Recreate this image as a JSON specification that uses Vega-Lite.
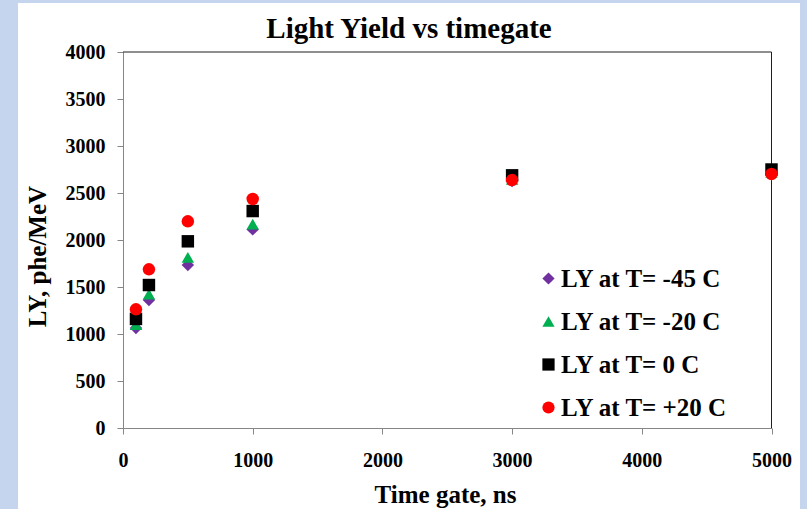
{
  "$schema": "https://vega.github.io/schema/vega-lite/v6.json",
  "width": 782,
  "height": 506,
  "autosize": {"type": "none"},
  "padding": {"left": 18, "top": 3, "right": 7, "bottom": 0},
  "background": "#c5d5ee",
  "config": {
    "view": {"fill": "white", "stroke": null},
    "font": "Liberation Serif"
  },
  "title": {
    "text": "Light Yield vs timegate",
    "font": "Liberation Serif",
    "fontSize": 29,
    "fontWeight": "bold",
    "color": "black",
    "anchor": "middle",
    "frame": "group",
    "baseline": "alphabetic",
    "offset": -33,
    "dy": 31
  },
  "datasets": {
    "ly": [
      {"series": "LY at T= -45 C", "gate": 100, "ly": 1063},
      {"series": "LY at T= -45 C", "gate": 200, "ly": 1362},
      {"series": "LY at T= -45 C", "gate": 500, "ly": 1734},
      {"series": "LY at T= -45 C", "gate": 1000, "ly": 2113},
      {"series": "LY at T= -45 C", "gate": 3000, "ly": 2627},
      {"series": "LY at T= -45 C", "gate": 5000, "ly": 2700},
      {"series": "LY at T= -20 C", "gate": 100, "ly": 1100},
      {"series": "LY at T= -20 C", "gate": 200, "ly": 1425},
      {"series": "LY at T= -20 C", "gate": 500, "ly": 1816},
      {"series": "LY at T= -20 C", "gate": 1000, "ly": 2170},
      {"series": "LY at T= -20 C", "gate": 3000, "ly": 2645},
      {"series": "LY at T= -20 C", "gate": 5000, "ly": 2720},
      {"series": "LY at T= 0 C", "gate": 100, "ly": 1160},
      {"series": "LY at T= 0 C", "gate": 200, "ly": 1521},
      {"series": "LY at T= 0 C", "gate": 500, "ly": 1986},
      {"series": "LY at T= 0 C", "gate": 1000, "ly": 2308},
      {"series": "LY at T= 0 C", "gate": 3000, "ly": 2688},
      {"series": "LY at T= 0 C", "gate": 5000, "ly": 2750},
      {"series": "LY at T= +20 C", "gate": 100, "ly": 1263},
      {"series": "LY at T= +20 C", "gate": 200, "ly": 1688},
      {"series": "LY at T= +20 C", "gate": 500, "ly": 2199},
      {"series": "LY at T= +20 C", "gate": 1000, "ly": 2436},
      {"series": "LY at T= +20 C", "gate": 3000, "ly": 2638},
      {"series": "LY at T= +20 C", "gate": 5000, "ly": 2702}
    ]
  },
  "data": {"values": [{}]},
  "layer": [
    {
      "mark": {"type": "rule", "color": "#1f1f1f", "strokeWidth": 1},
      "encoding": {
        "x": {"datum": 0, "type": "quantitative"},
        "x2": {"datum": 5000},
        "y": {"datum": 4000, "type": "quantitative"}
      }
    },
    {
      "mark": {"type": "rule", "color": "#1f1f1f", "strokeWidth": 1},
      "encoding": {
        "x": {"datum": 5000, "type": "quantitative"},
        "y": {"datum": 0, "type": "quantitative"},
        "y2": {"datum": 4000}
      }
    },
    {
      "data": {"name": "ly"},
      "mark": {"type": "point", "filled": true, "opacity": 1, "size": 155, "strokeWidth": 0},
      "encoding": {
        "x": {
          "field": "gate",
          "type": "quantitative",
          "scale": {"domain": [0, 5000], "range": [105, 753.5], "nice": false},
          "axis": {
            "values": [0, 1000, 2000, 3000, 4000, 5000],
            "format": "d",
            "grid": false,
            "offset": -81,
            "domainColor": "#868686",
            "tickColor": "#868686",
            "tickSize": 6,
            "labelPadding": 16,
            "labelFont": "Liberation Serif",
            "labelFontSize": 20,
            "labelFontWeight": "bold",
            "labelColor": "black",
            "labelFlush": false,
            "labelOverlap": false,
            "title": "Time gate, ns",
            "titleFont": "Liberation Serif",
            "titleFontSize": 25,
            "titleFontWeight": "bold",
            "titleColor": "black",
            "titleX": 427,
            "titleY": 66,
            "titleBaseline": "middle",
            "titleAlign": "center"
          }
        },
        "y": {
          "field": "ly",
          "type": "quantitative",
          "scale": {"domain": [0, 4000], "range": [425, 49], "nice": false},
          "axis": {
            "values": [0, 500, 1000, 1500, 2000, 2500, 3000, 3500, 4000],
            "format": "d",
            "grid": false,
            "offset": -105,
            "domainColor": "#868686",
            "tickColor": "#868686",
            "tickSize": 6,
            "labelPadding": 12,
            "labelFont": "Liberation Serif",
            "labelFontSize": 20,
            "labelFontWeight": "bold",
            "labelColor": "black",
            "labelFlush": false,
            "labelOverlap": false,
            "title": "LY, phe/MeV",
            "titleFont": "Liberation Serif",
            "titleFontSize": 25,
            "titleFontWeight": "bold",
            "titleColor": "black",
            "titleAngle": -90,
            "titleX": -86,
            "titleY": 253,
            "titleBaseline": "middle",
            "titleAlign": "center"
          }
        },
        "color": {
          "field": "series",
          "type": "nominal",
          "scale": {
            "domain": ["LY at T= -45 C", "LY at T= -20 C", "LY at T= 0 C", "LY at T= +20 C"],
            "range": ["#7030a0", "#00b050", "#000000", "#ff0000"]
          },
          "legend": {
            "title": null,
            "orient": "none",
            "legendX": 518,
            "legendY": 263,
            "padding": 0,
            "rowPadding": 17,
            "labelOffset": 0,
            "labelLimit": 400,
            "labelFont": "Liberation Serif",
            "labelFontSize": 25,
            "labelFontWeight": "bold",
            "labelColor": "black",
            "symbolSize": 150,
            "symbolStrokeWidth": 0,
            "symbolOpacity": 1
          }
        },
        "shape": {
          "field": "series",
          "type": "nominal",
          "scale": {
            "domain": ["LY at T= -45 C", "LY at T= -20 C", "LY at T= 0 C", "LY at T= +20 C"],
            "range": ["diamond", "triangle-up", "square", "circle"]
          }
        }
      }
    }
  ]
}
